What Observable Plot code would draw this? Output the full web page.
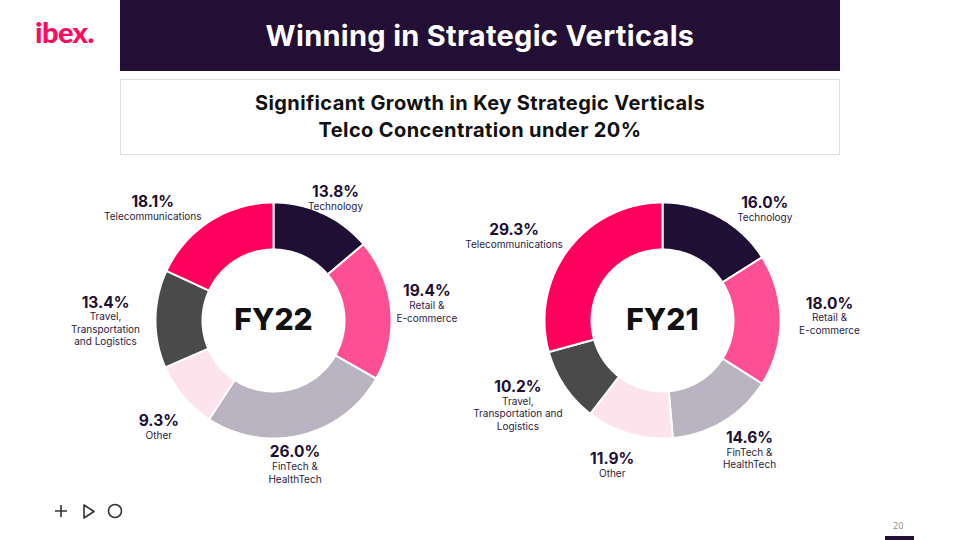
<!DOCTYPE html>
<html><head><meta charset="utf-8">
<script src="https://cdn.jsdelivr.net/npm/d3@7"></script>
<script src="https://cdn.jsdelivr.net/npm/@observablehq/plot@0.6"></script>
<style>
html,body{margin:0;padding:0;background:#fff;}
body{width:960px;height:540px;position:relative;overflow:hidden;font-family:Inter,Lato,sans-serif;}
.logo{position:absolute;left:35px;top:16px;font-size:29px;font-weight:900;color:#ff0a5c;letter-spacing:-0.6px;line-height:32px;font-family:Lato,sans-serif}
.titlebar{position:absolute;left:120px;top:0;width:720px;height:71px;background:#230f35;color:#fff;font-size:29px;font-weight:700;display:flex;align-items:center;justify-content:center;letter-spacing:0.3px}
.subbox{position:absolute;left:120px;top:79px;width:718px;height:74px;border:1px solid #dedede;display:flex;flex-direction:column;align-items:center;justify-content:center;font-size:20px;font-weight:700;color:#111;line-height:27px;letter-spacing:0.4px}
#chart{position:absolute;left:0;top:160px}
.icons{position:absolute;left:50px;top:500px}
.pnum{position:absolute;left:893px;top:519px;font-size:9px;color:#8a8a8a;font-family:"Open Sans",sans-serif}
.pbar{position:absolute;left:885px;top:536px;width:29px;height:4px;background:#230f35}
</style></head>
<body>
<div class="logo">ibex.</div>
<div class="titlebar">Winning in Strategic Verticals</div>
<div class="subbox"><div>Significant Growth in Key Strategic Verticals</div><div>Telco Concentration under 20%</div></div>
<div id="chart"></div>
<svg class="icons" width="80" height="24" viewBox="0 0 80 24">
  <g fill="none" stroke="#333" stroke-width="1.6">
    <path d="M5 11 H17 M11 5 V17"/>
    <path d="M34 5 L34 18 L44 11.5 Z" stroke-linejoin="round"/>
    <circle cx="65" cy="11" r="6.5"/>
  </g>
</svg>
<div class="pnum">20</div>
<div class="pbar"></div>
<script>
// ---- data ----
const years = ["FY22", "FY21"];
const categories = ["Technology", "Retail & E-commerce", "FinTech & HealthTech", "Other", "Travel, Transportation and Logistics", "Telecommunications"];
const fy22 = [13.8, 19.4, 26.0, 9.3, 13.4, 18.1];
const fy21 = [16.0, 18.0, 14.6, 11.9, 10.2, 29.3];
const colors = ["#200f35", "#ff4f94", "#bab3c1", "#fde4ec", "#4b4a4b", "#ff005c"];
const labelsFY22 = ["Technology", "Retail &\nE-commerce", "FinTech &\nHealthTech", "Other", "Travel,\nTransportation\nand Logistics", "Telecommunications"];
const labelsFY21 = ["Technology", "Retail &\nE-commerce", "FinTech &\nHealthTech", "Other", "Travel,\nTransportation and\nLogistics", "Telecommunications"];

// ---- layout (not data) ----
const layout = [
  {cx: 273, cy: 320, nudge: [[-1,13],[4,-10],[-14,-9],[0,9],[-18,-11],[-40,13]]},
  {cx: 662, cy: 320, nudge: [[30,19],[17,-12],[9,-6],[-8,0],[-20,-12],[-29,5]]}
];
const R = 118, r0 = 71, RL = 150;
const series = [fy22, fy21];
const labelSets = [labelsFY22, labelsFY21];

const slicePts = [], labelRows = [], centers = [];
series.forEach((vals, k) => {
  const {cx, cy, nudge} = layout[k];
  centers.push({x: cx, y: cy, year: years[k]});
  const arcs = d3.pie().sort(null).startAngle(0).endAngle(2 * Math.PI)(vals);
  arcs.forEach((a, i) => {
    const id = years[k] + "-" + i;
    const n = Math.max(4, Math.ceil((a.endAngle - a.startAngle) / 0.02));
    for (let j = 0; j <= n; j++) {
      const t = a.startAngle + (a.endAngle - a.startAngle) * j / n;
      slicePts.push({id, color: colors[i], x: cx + R * Math.sin(t), y: cy - R * Math.cos(t)});
    }
    for (let j = n; j >= 0; j--) {
      const t = a.startAngle + (a.endAngle - a.startAngle) * j / n;
      slicePts.push({id, color: colors[i], x: cx + r0 * Math.sin(t), y: cy - r0 * Math.cos(t)});
    }
    const m = (a.startAngle + a.endAngle) / 2;
    labelRows.push({
      x: cx + RL * Math.sin(m) + nudge[i][0],
      y: cy - RL * Math.cos(m) + nudge[i][1],
      pct: vals[i].toFixed(1) + "%",
      cat: labelSets[k][i]
    });
  });
});

const chart = Plot.plot({
  width: 960, height: 340,
  margin: 0,
  x: {domain: [0, 960], range: [0, 960], axis: null},
  y: {domain: [160, 500], range: [0, 340], axis: null},
  color: {type: "identity"},
  style: {background: "transparent", fontFamily: "Inter, Lato, sans-serif"},
  marks: [
    Plot.line(slicePts, {x: "x", y: "y", z: "id", fill: "color", stroke: "#fff", strokeWidth: 2, curve: "linear-closed"}),
    Plot.text(centers, {x: "x", y: "y", text: "year", fontSize: 30, fontWeight: 800, fill: "#111", fontFamily: "Inter, sans-serif"}),
    Plot.text(labelRows, {x: "x", y: "y", text: "pct", lineAnchor: "bottom", dy: 0, fontSize: 15.5, fontWeight: 700, fill: "#1e0f33"}),
    Plot.text(labelRows, {x: "x", y: "y", text: "cat", lineAnchor: "top", dy: 4, fontSize: 10, lineHeight: 1.25, fill: "#2b1b3f"})
  ]
});
document.getElementById("chart").appendChild(chart);
</script>
</body></html>
